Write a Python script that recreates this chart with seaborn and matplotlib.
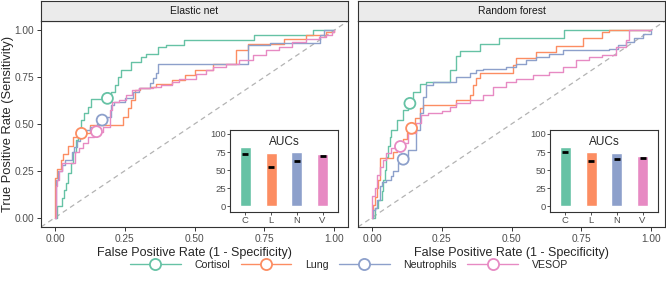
import numpy as np
import pandas as pd
import seaborn as sns
import matplotlib.pyplot as plt
from matplotlib.lines import Line2D

# ---- data ----
models = ["Elastic net", "Random forest"]
markers = ["Cortisol", "Lung", "Neutrophils", "VESOP"]
short = ["C", "L", "N", "V"]

# ROC step points: (fpr where tpr rises, tpr after the rise)
en_cortisol_fpr = [0, .006, .024, .032, .039, .048, .056, .065, .075, .083, .095, .104, .12, .13, .2, .214, .226, .238, .274, .31, .327, .369, .399, .464, .714, .923, 1]
en_cortisol_tpr = [0, .064, .106, .15, .184, .238, .29, .353, .415, .468, .52, .56, .59, .633, .672, .707, .751, .787, .831, .858, .876, .911, .92, .947, .973, 1, 1]
en_lung_fpr = [0, 0, .008, .02, .03, .045, .065, .083, .125, .244, .262, .274, .286, .304, .339, .363, .42, .467, .503, .565, .649, .69, .821, .899, .97, 1]
en_lung_tpr = [0, .21, .26, .31, .34, .38, .432, .45, .495, .539, .583, .628, .681, .69, .699, .716, .734, .761, .787, .823, .894, .929, .956, .973, .991, 1]
en_neut_fpr = [0, .004, .012, .025, .036, .06, .068, .08, .089, .11, .125, .15, .16, .185, .2, .21, .25, .28, .3, .34, .352, .363, .37, .69, .77, .95, .965, 1]
en_neut_tpr = [0, .2, .25, .28, .309, .35, .379, .41, .45, .47, .486, .5, .52, .54, .6, .62, .64, .67, .69, .72, .745, .771, .823, .92, .93, .975, 1, 1]
en_vesop_fpr = [0, .003, .008, .015, .025, .071, .085, .1, .12, .14, .173, .196, .205, .229, .253, .276, .3, .35, .38, .42, .446, .506, .542, .565, .613, .661, .708, .756, .804, .851, .899, .946, .97, .994, 1]
en_vesop_tpr = [0, .17, .2, .25, .29, .353, .37, .4, .43, .459, .486, .574, .619, .628, .654, .681, .69, .7, .71, .725, .741, .768, .787, .805, .823, .84, .867, .894, .911, .938, .956, .965, .973, .991, 1]

rf_cortisol_fpr = [0, .011, .023, .035, .04, .046, .052, .058, .064, .07, .088, .112, .13, .148, .172, .195, .279, .302, .314, .386, .457, .689, 1]
rf_cortisol_tpr = [0, .052, .096, .14, .2, .255, .326, .38, .43, .47, .52, .574, .61, .67, .713, .725, .787, .863, .89, .926, .957, 1, 1]
rf_lung_fpr = [0, .002, .011, .017, .023, .029, .076, .09, .11, .125, .142, .154, .172, .183, .302, .35, .362, .374, .386, .505, .517, .588, .66, .755, .826, .85, 1]
rf_lung_tpr = [0, .069, .11, .16, .2, .32, .35, .39, .42, .45, .477, .532, .585, .602, .629, .656, .709, .745, .772, .816, .851, .887, .914, .957, .993, 1, 1]
rf_neut_fpr = [0, .004, .011, .017, .029, .035, .052, .07, .076, .094, .112, .13, .159, .171, .183, .195, .219, .302, .35, .374, .398, .481, .517, .552, .588, .636, .684, .85, .88, .91, .94, .97, 1]
rf_neut_tpr = [0, .04, .052, .096, .167, .19, .2, .22, .25, .291, .312, .362, .468, .557, .645, .707, .725, .752, .77, .787, .796, .805, .823, .84, .858, .876, .894, .903, .92, .94, .96, .98, 1]
rf_vesop_fpr = [0, 0, .011, .017, .029, .04, .052, .07, .1, .112, .13, .159, .177, .2, .25, .279, .302, .35, .398, .433, .481, .517, .576, .636, .683, .731, .779, .826, .874, .91, .921, 1]
rf_vesop_tpr = [0, .113, .16, .23, .273, .309, .344, .372, .38, .397, .45, .504, .55, .56, .57, .59, .61, .628, .654, .699, .725, .74, .763, .78, .806, .84, .858, .867, .912, .947, 1, 1]

# chosen cut-off points (circles)
en_cut_fpr = [.188, .095, .169, .149]
en_cut_tpr = [.637, .45, .521, .459]
rf_cut_fpr = [.136, .142, .112, .102]
rf_cut_tpr = [.61, .477, .312, .38]

# AUC insets (bar = AUC, dash = second estimate)
en_auc = [82, 73, 75, 72]
en_mark = [72, 54, 63, 70]
rf_auc = [82, 75, 73, 70]
rf_mark = [75, 63, 65, 67]

curves = {
    "Elastic net": [(en_cortisol_fpr, en_cortisol_tpr), (en_lung_fpr, en_lung_tpr),
                    (en_neut_fpr, en_neut_tpr), (en_vesop_fpr, en_vesop_tpr)],
    "Random forest": [(rf_cortisol_fpr, rf_cortisol_tpr), (rf_lung_fpr, rf_lung_tpr),
                      (rf_neut_fpr, rf_neut_tpr), (rf_vesop_fpr, rf_vesop_tpr)],
}
cuts = {"Elastic net": (en_cut_fpr, en_cut_tpr), "Random forest": (rf_cut_fpr, rf_cut_tpr)}
aucs = {"Elastic net": (en_auc, en_mark), "Random forest": (rf_auc, rf_mark)}

rows = []
for m in models:
    for name, (f, t) in zip(markers, curves[m]):
        for a, b in zip(f, t):
            rows.append((m, name, a, b))
roc = pd.DataFrame(rows, columns=["model", "marker", "fpr", "tpr"])

sns.set_theme(style="white")
plt.rcParams["font.family"] = ["Liberation Sans", "DejaVu Sans"]
colors = sns.color_palette("Set2", 4)
pal = dict(zip(markers, colors))
dark = "#333333"
tick_col = "#4d4d4d"

fig = plt.figure(figsize=(6.66, 2.82), dpi=100)
W, H = 666.0, 282.0
panel_x = [41, 358]
inset_x = [230, 550]
ticks = [0, 0.25, 0.5, 0.75, 1]

for i, m in enumerate(models):
    x0 = panel_x[i]
    ax = fig.add_axes([x0 / W, (H - 227) / H, 307 / W, 206 / H])
    ax.axline((0, 0), (1, 1), color="#b3b3b3", ls=(0, (4, 3)), lw=0.9, zorder=1)
    sns.lineplot(data=roc[roc.model == m], x="fpr", y="tpr", hue="marker",
                 hue_order=markers, palette=pal, sort=False, estimator=None,
                 drawstyle="steps-post", lw=1.0, legend=False, ax=ax, zorder=2)
    cf, ct = cuts[m]
    ax.scatter(cf, ct, s=62, facecolors="white", edgecolors=colors, linewidths=1.3, zorder=3)
    ax.set_xlim(-0.05, 1.05)
    ax.set_ylim(-0.05, 1.05)
    ax.set_xticks(ticks)
    ax.set_xticklabels([f"{v:.2f}" for v in ticks])
    ax.set_yticks(ticks)
    ax.set_yticklabels([f"{v:.2f}" for v in ticks])
    ax.tick_params(length=3, width=0.7, color=dark, labelsize=7.3, labelcolor=tick_col, pad=2,
                   bottom=True, left=(i == 0), labelleft=(i == 0))
    ax.set_xlabel("False Positive Rate (1 - Specificity)", fontsize=9, labelpad=2.5)
    ax.set_ylabel("")
    for s in ax.spines.values():
        s.set_color(dark)
        s.set_linewidth(0.8)

    # facet strip
    st = fig.add_axes([x0 / W, (H - 20.5) / H, 307 / W, 19.5 / H])
    st.set_facecolor("#ebebeb")
    st.set_xticks([])
    st.set_yticks([])
    for s in st.spines.values():
        s.set_color(dark)
        s.set_linewidth(0.8)
    st.text(0.5, 0.5, m, ha="center", va="center", fontsize=7.5, color="#1a1a1a",
            transform=st.transAxes)

    # AUC inset
    ins = fig.add_axes([inset_x[i] / W, (H - 212) / H, 108 / W, 82 / H])
    auc, mark = aucs[m]
    sns.barplot(x=short, y=auc, hue=short, palette=colors, width=0.42, legend=False,
                ax=ins, saturation=1)
    ins.plot(range(4), mark, ls="none", marker="_", ms=5, mew=2, color="black")
    ins.set_ylim(-8, 105.5)
    ins.set_xlim(-0.6, 3.6)
    ins.set_yticks([0, 25, 50, 75, 100])
    ins.tick_params(length=2, width=0.6, color=dark, labelsize=6.8, labelcolor=tick_col, pad=1,
                    bottom=True, left=True)
    ins.set_title("AUCs", fontsize=8.5, y=0.82, pad=0)
    ins.set_xlabel("")
    ins.set_ylabel("")
    ins.set_facecolor("white")
    for s in ins.spines.values():
        s.set_color(dark)
        s.set_linewidth(0.8)

fig.text(8 / W, (H - 124) / H, "True Positive Rate (Sensitivity)", rotation=90,
         ha="center", va="center", fontsize=9.3)

handles = [Line2D([], [], color=c, lw=1.0, marker="o", ms=8, mfc="white", mec=c, mew=1.3)
           for c in colors]
fig.legend(handles, markers, loc="center", bbox_to_anchor=(349 / W, 17 / H), ncol=4,
           frameon=False, fontsize=7.6, handlelength=4.8, handletextpad=1.3, columnspacing=1.0)

fig.savefig("out.png", dpi=100)
